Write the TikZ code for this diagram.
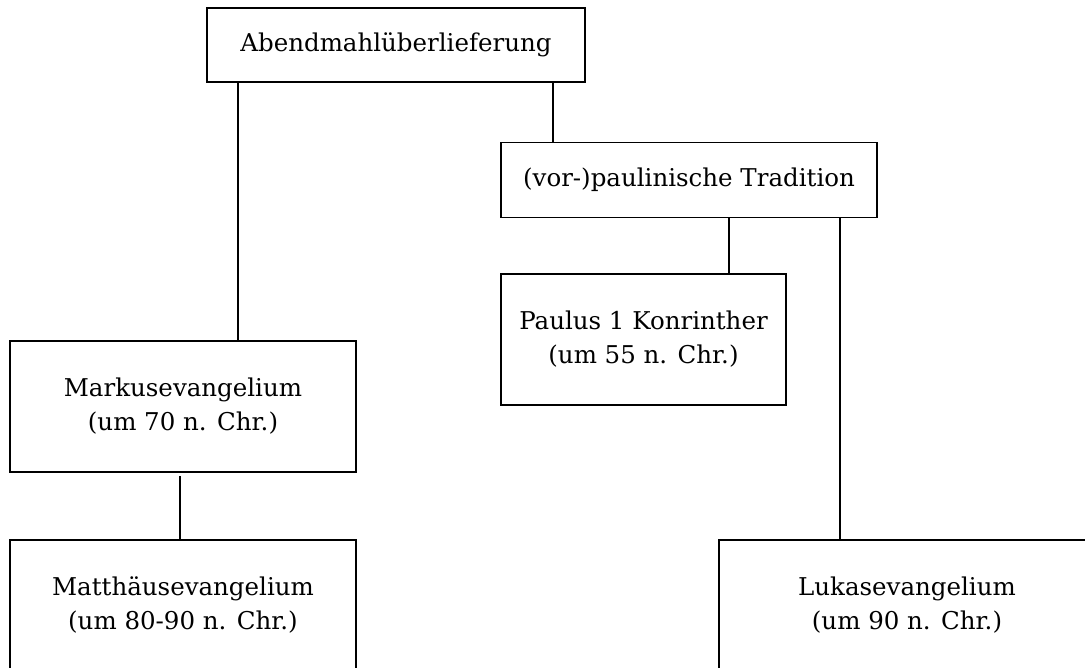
\documentclass[tikz,border=0pt]{standalone}
\usepackage{fontspec}
\setmainfont{DejaVu Serif}
\begin{document}
\begin{tikzpicture}[x=1pt,y=-1pt,
  box/.style={draw, line width=1.8pt, rectangle, inner sep=0pt, align=center,
              font=\fontsize{24.5}{34}\selectfont},
  link/.style={line width=1.3pt}]
\useasboundingbox (0,0) rectangle (1085,668);
\clip (0,0) rectangle (1085,668);

% boxes
\node[box, minimum width=378pt, minimum height=74pt]  (abend)  at (396,45)      {Abendmahlüberlieferung};
\node[box, minimum width=376pt, minimum height=75pt]  (trad)   at (689,180)     {(vor-)paulinische Tradition};
\node[box, minimum width=285pt, minimum height=131pt] (paulus) at (643.5,339.5) {Paulus 1 Konrinther\\(um 55 n. Chr.)};
\node[box, minimum width=346pt, minimum height=131pt] (markus) at (183,406.5)   {Markusevangelium\\(um 70 n. Chr.)};
\node[box, minimum width=346pt, minimum height=131pt] (matth)  at (183,605.5)   {Matthäusevangelium\\(um 80-90 n. Chr.)};
\node[box, minimum width=376pt, minimum height=131pt] (lukas)  at (907,605.5)   {Lukasevangelium\\(um 90 n. Chr.)};

% connectors
\draw[link] (abend.south -| 238,0) -- (markus.north -| 238,0);
\draw[link] (abend.south -| 553,0) -- (trad.north -| 553,0);
\draw[link] (trad.south -| 729,0) -- (paulus.north -| 729,0);
\draw[link] (trad.south -| 840,0) -- (lukas.north -| 840,0);
\draw[link, shorten <=3pt] (markus.south -| 180,0) -- (matth.north -| 180,0);
\end{tikzpicture}
\end{document}
